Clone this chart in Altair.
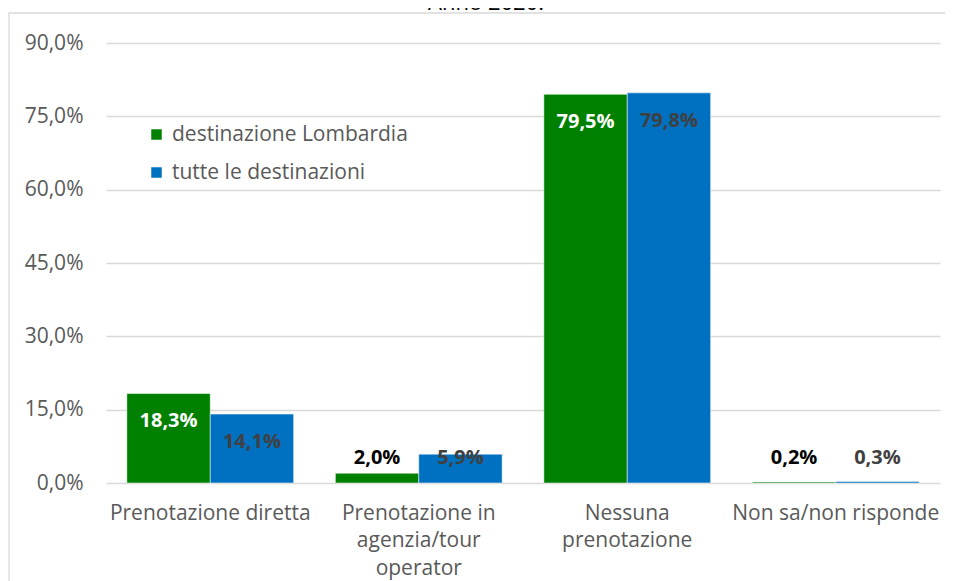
import altair as alt
import pandas as pd

categories = ["Prenotazione diretta", "Prenotazione in|agenzia/tour|operator",
              "Nessuna|prenotazione", "Non sa/non risponde"]
series = ["destinazione Lombardia", "tutte le destinazioni"]
lombardia = [18.3, 2.0, 79.5, 0.2]
tutte = [14.1, 5.9, 79.8, 0.3]
y_ticks = [0, 15, 30, 45, 60, 75, 90]
title_text = "Anno 2020."

rows = []
for c, a, b in zip(categories, lombardia, tutte):
    rows.append({"categoria": c, "serie": series[0], "valore": a})
    rows.append({"categoria": c, "serie": series[1], "valore": b})
df = pd.DataFrame(rows)

FONT = "Open Sans"
FS = 21
GRID = "#d9d9d9"
TXT = "#595959"

x_enc = alt.X("categoria:N", sort=categories,
              scale=alt.Scale(paddingInner=0.2, paddingOuter=0.1),
              axis=alt.Axis(title=None, labelExpr="split(datum.label, '|')",
                            labelFontSize=FS, labelColor=TXT, labelFont=FONT,
                            domain=False, ticks=False, labelPadding=19,
                            labelLineHeight=27.5, labelAngle=0, labelLimit=0))
y_enc = alt.Y("valore:Q", scale=alt.Scale(domain=[0, 90], nice=False),
              axis=alt.Axis(title=None, values=y_ticks,
                            labelExpr="replace(format(datum.value, '.1f'), '.', ',') + '%'",
                            labelFontSize=FS, labelColor=TXT, labelFont=FONT,
                            gridColor=GRID, gridWidth=1.3, domain=False, ticks=False,
                            labelPadding=23))
xo = alt.XOffset("serie:N", sort=series, scale=alt.Scale(paddingInner=0, paddingOuter=0))

base = alt.Chart(df)
bars = base.mark_bar(stroke="white", strokeWidth=0.5).encode(
    x=x_enc, y=y_enc, xOffset=xo,
    color=alt.Color("serie:N", sort=series,
                    scale=alt.Scale(domain=series, range=["#008000", "#0070C0"]),
                    legend=alt.Legend(title=None, orient="none", legendX=40, legendY=81,
                                      symbolType="square", symbolSize=110,
                                      symbolStrokeWidth=0, labelLimit=0,
                                      labelFontSize=FS, labelColor=TXT, labelFont=FONT,
                                      rowPadding=16, labelOffset=5)),
)

labels = base.transform_calculate(
    ly="max(datum.valore - 5.7, 5.1)",
    lt="replace(format(datum.valore, '.1f'), '.', ',') + '%'",
    lc="datum.serie == 'destinazione Lombardia' ? (datum.valore > 10 ? 'white' : 'black') : '#404040'",
).mark_text(fontSize=20, fontWeight="bold", font=FONT, baseline="middle").encode(
    x=alt.X("categoria:N", sort=categories),
    xOffset=alt.XOffset("serie:N", sort=series),
    y=alt.Y("ly:Q"),
    text="lt:N",
    color=alt.Color("lc:N", scale=None),
)

border = alt.Chart(pd.DataFrame({"k": [0]})).mark_rect(
    fill=None, stroke=GRID, strokeWidth=1.3
).encode(x=alt.value(-97), x2=alt.value(860), y=alt.value(-30), y2=alt.value(560))

title = alt.Chart(pd.DataFrame({"t": [title_text]})).mark_text(
    fontSize=22, font=FONT, color="black", baseline="alphabetic", align="center"
).encode(x=alt.value(380), y=alt.value(-33), text="t:N")

chart = alt.layer(border, bars, labels, title).properties(
    width=834, height=440,
    autosize=alt.AutoSizeParams(type="none"),
    padding={"left": 98, "top": 35, "right": 5, "bottom": 98},
).configure_view(stroke=None)

chart.save("out.html", embed_options={"renderer": "svg", "actions": False})
